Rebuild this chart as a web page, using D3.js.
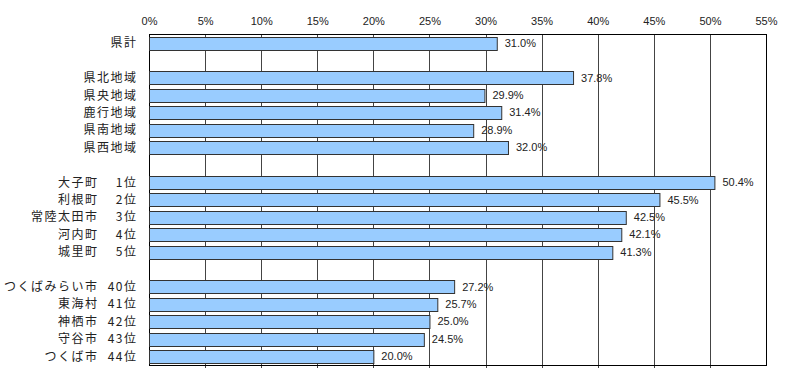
<!DOCTYPE html>
<html><head><meta charset="utf-8">
<script src="https://cdn.jsdelivr.net/npm/d3@7/dist/d3.min.js"></script>
<style>body{margin:0;background:#fff}svg{display:block}</style>
</head><body>
<svg id="chart" width="800" height="376"></svg>
<script>
const categories = ["県計","県北地域","県央地域","鹿行地域","県南地域","県西地域","大子町","利根町","常陸太田市","河内町","城里町","つくばみらい市","東海村","神栖市","守谷市","つくば市"];
const ranks = ["","","","","","","1位","2位","3位","4位","5位","40位","41位","42位","43位","44位"];
const values = [31.0,37.8,29.9,31.4,28.9,32.0,50.4,45.5,42.5,42.1,41.3,27.2,25.7,25.0,24.5,20.0];
const groupSizes = [1,5,5,5];
const tickValues = [0,5,10,15,20,25,30,35,40,45,50,55];

(function () {
const svg = d3.select("#chart");
const pL = 149, pR = 766, pT = 34.3, pB = 365;

// build slot domain with blank gaps between groups
const domain = [];
let idx = 0;
groupSizes.forEach((n, g) => {
  if (g > 0) domain.push("gap" + g);
  for (let i = 0; i < n; i++) domain.push("c" + (idx++));
});

const x = d3.scaleLinear().domain([0, 55]).range([pL, pR]);
const y = d3.scaleBand().domain(domain).range([pT, pB]).paddingInner(0.27).paddingOuter(0.135);

const data = categories.map((c, i) => ({key: "c" + i, name: c, rank: ranks[i], value: values[i]}));

// gridlines
svg.append("g").selectAll("line").data(tickValues.slice(1, -1)).join("line")
  .attr("x1", d => Math.round(x(d)) + 0.5).attr("x2", d => Math.round(x(d)) + 0.5)
  .attr("y1", pT).attr("y2", pB + 3)
  .attr("stroke", "#444").attr("stroke-width", 1);

// border
svg.append("rect").attr("x", pL + 0.5).attr("y", Math.round(pT) + 0.5)
  .attr("width", Math.round(pR - pL)).attr("height", Math.round(pB - pT))
  .attr("fill", "none").attr("stroke", "#000").attr("stroke-width", 1);

// top axis labels
const xAxis = d3.axisTop(x).tickValues(tickValues).tickSize(0).tickPadding(0).tickFormat(d => d + "%");
const ax = svg.append("g").attr("transform", "translate(0,25)").call(xAxis);
ax.select(".domain").remove();
ax.selectAll("text").attr("font-family", "'Liberation Sans', Arial, sans-serif").attr("font-size", 11).attr("fill", "#222");

// bars
svg.append("g").selectAll("rect").data(data).join("rect")
  .attr("x", x(0) + 0.5)
  .attr("y", d => Math.round(y(d.key)) + 0.5)
  .attr("width", d => x(d.value) - x(0))
  .attr("height", Math.round(y.bandwidth()))
  .attr("fill", "#99ccff").attr("stroke", "#333").attr("stroke-width", 1);

// value labels
svg.append("g").selectAll("text").data(data).join("text")
  .attr("x", d => x(d.value) + 8)
  .attr("y", d => y(d.key) + y.bandwidth() / 2)
  .attr("dy", "0.35em")
  .attr("font-family", "'Liberation Sans', Arial, sans-serif").attr("font-size", 11).attr("fill", "#222")
  .text(d => d.value.toFixed(1) + "%");

// category labels
const lab = svg.append("g").attr("font-family", "'Noto Sans CJK JP', sans-serif").attr("font-size", 12)
  .attr("letter-spacing", "1.5px").attr("fill", "#222");
lab.selectAll("text.name").data(data).join("text").attr("class", "name")
  .attr("text-anchor", "end")
  .attr("x", d => d.rank ? 98.5 : 137.5)
  .attr("y", d => y(d.key) + y.bandwidth() / 2)
  .attr("dy", "0.36em")
  .text(d => d.name);
lab.selectAll("text.rank").data(data.filter(d => d.rank)).join("text").attr("class", "rank")
  .attr("text-anchor", "end")
  .attr("x", 137.5)
  .attr("y", d => y(d.key) + y.bandwidth() / 2)
  .attr("dy", "0.36em")
  .text(d => d.rank);
})();
</script>
</body></html>
